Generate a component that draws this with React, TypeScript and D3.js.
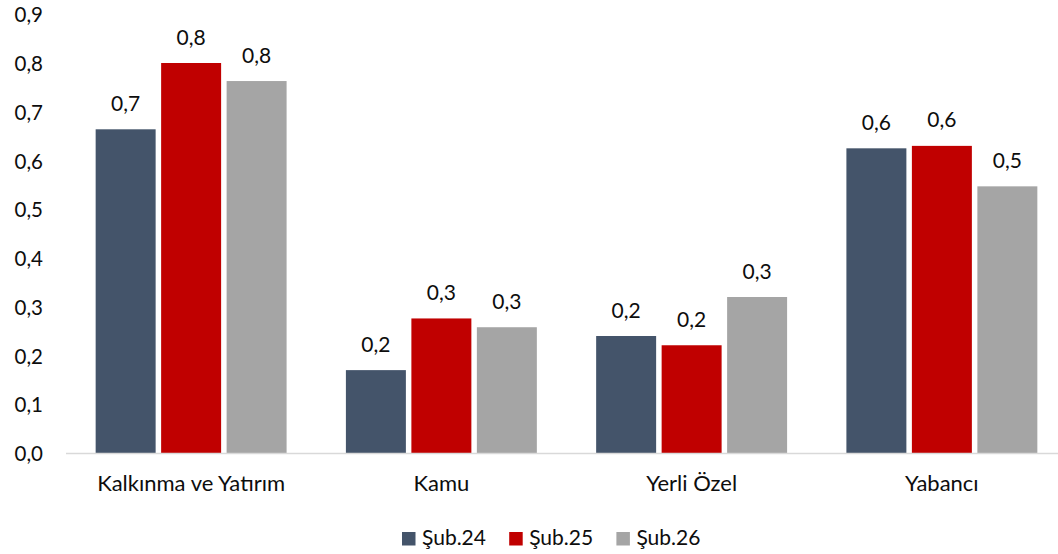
import React from "react";
import * as d3 from "d3";

const categories = ["Kalkınma ve Yatırım", "Kamu", "Yerli Özel", "Yabancı"];
const seriesNames = ["Şub.24", "Şub.25", "Şub.26"];
const sub24 = [0.664, 0.17, 0.24, 0.625];
const sub25 = [0.8, 0.276, 0.221, 0.63];
const sub26 = [0.763, 0.258, 0.32, 0.547];
const colors = ["#44546A", "#C00000", "#A5A5A5"];
const yTicks = [0, 0.1, 0.2, 0.3, 0.4, 0.5, 0.6, 0.7, 0.8, 0.9];

const W = 1058;
const H = 554;
const FONT = "Lato, 'Open Sans', sans-serif";

export default function App() {
  const seriesValues = [sub24, sub25, sub26];
  const x = d3
    .scaleBand<string>()
    .domain(categories)
    .range([66, 1067])
    .paddingInner(0.215)
    .paddingOuter(0.1075);
  const xi = d3
    .scaleBand<string>()
    .domain(seriesNames)
    .range([0, x.bandwidth()])
    .padding(0);
  const y = d3.scaleLinear().domain([0, 0.9]).range([453, 14.25]);
  const inset = 2.75;
  const fmt = (v: number) => d3.format(".1f")(v).replace(".", ",");

  return (
    <svg
      width={W}
      height={H}
      style={{ position: "absolute", left: 0, top: 0, background: "#fff" }}
      fontFamily={FONT}
    >
      {yTicks.map((t) => (
        <text
          key={t}
          x={43}
          y={y(t)}
          textAnchor="end"
          dominantBaseline="central"
          fontSize={20.5}
          fill="#0d0d0d"
        >
          {fmt(t)}
        </text>
      ))}
      {seriesNames.map((s, si) =>
        categories.map((c, ci) => {
          const v = seriesValues[si][ci];
          const bx = (x(c) as number) + (xi(s) as number) + inset;
          const bw = xi.bandwidth() - inset * 2;
          return (
            <g key={s + c}>
              <rect x={bx} y={y(v)} width={bw} height={y(0) - y(v)} fill={colors[si]} />
              <text
                x={bx + bw / 2}
                y={y(v) - 18.5}
                textAnchor="middle"
                fontSize={21}
                fill="#0d0d0d"
              >
                {fmt(v)}
              </text>
            </g>
          );
        })
      )}
      <line x1={66} x2={W} y1={y(0) + 0.5} y2={y(0) + 0.5} stroke="#d9d9d9" strokeWidth={1.5} />
      {categories.map((c) => (
        <text
          key={c}
          x={(x(c) as number) + x.bandwidth() / 2}
          y={491}
          textAnchor="middle"
          fontSize={22}
          fill="#0d0d0d"
        >
          {c}
        </text>
      ))}
      {seriesNames.map((s, si) => {
        const lx = 402 + si * 107.2;
        return (
          <g key={s}>
            <rect x={lx} y={532} width={13.5} height={13.5} fill={colors[si]} />
            <text x={lx + 20} y={545} fontSize={21} fill="#0d0d0d">
              {s}
            </text>
          </g>
        );
      })}
    </svg>
  );
}
